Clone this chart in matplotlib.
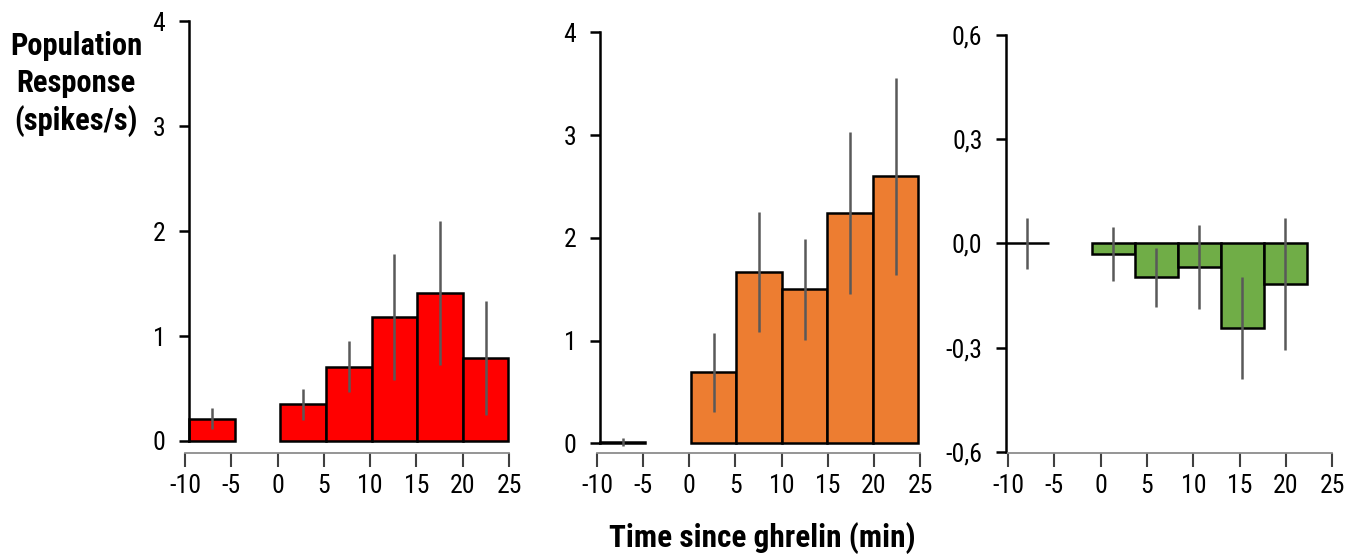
import matplotlib
matplotlib.use("Agg")
import matplotlib.pyplot as plt

plt.rcParams['font.family'] = ['Roboto Condensed', 'Liberation Sans', 'DejaVu Sans']

# ---- data ----
bin_left = [-10, 0, 5, 10, 15, 20]
bin_width = 5
red_vals = [0.21, 0.35, 0.71, 1.18, 1.41, 0.79]
red_err = [0.10, 0.15, 0.24, 0.60, 0.69, 0.54]
orange_vals = [0.01, 0.69, 1.67, 1.50, 2.24, 2.60]
orange_err = [0.04, 0.385, 0.585, 0.49, 0.79, 0.96]
green_vals = [0.0, -0.03, -0.098, -0.068, -0.244, -0.116]
green_err = [0.074, 0.078, 0.086, 0.122, 0.147, 0.19]

x_ticks = [-10, -5, 0, 5, 10, 15, 20, 25]
x_ticklabels = ['-10', '-5', '0', '5', '10', '15', '20', '25']
y_ticks_12 = [0, 1, 2, 3, 4]
y_ticklabels_12 = ['0', '1', '2', '3', '4']
y_ticks_3 = [-0.6, -0.3, 0.0, 0.3, 0.6]
y_ticklabels_3 = ['-0,6', '-0,3', '0,0', '0,3', '0,6']

colors = ['#FF0000', '#ED7D31', '#70AD47']

W, H = 1353, 558
fig = plt.figure(figsize=(W / 100, H / 100), dpi=100)


def px_axes(left, right, top, bottom):
    return fig.add_axes([left / W, 1 - bottom / H, (right - left) / W, (bottom - top) / H])


panels = [
    dict(vals=red_vals, err=red_err, color=colors[0],
         ax=(189, 513, 21.3, 441), xlim=(-10, 25.5), ylim=(0, 4),
         yt=y_ticks_12, ytl=y_ticklabels_12,
         xa=(185, 509, 452.7)),
    dict(vals=orange_vals, err=orange_err, color=colors[1],
         ax=(600, 923, 32.3, 443.3), xlim=(-10, 25.5), ylim=(0, 4),
         yt=y_ticks_12, ytl=y_ticklabels_12,
         xa=(597, 920, 452.7)),
    dict(vals=green_vals, err=green_err, color=colors[2],
         ax=(1006, 1337, 35, 451.7), xlim=(-10, 28.5), ylim=(-0.6, 0.6),
         yt=y_ticks_3, ytl=y_ticklabels_3,
         xa=(1008, 1332.3, 453.3)),
]

tick_fs = 18.5
for p in panels:
    l, r, t, b = p['ax']
    ax = px_axes(l, r, t, b)
    ax.set_xlim(*p['xlim'])
    ax.set_ylim(*p['ylim'])
    centers = [x + bin_width / 2 for x in bin_left]
    bars = ax.bar(bin_left, p['vals'], width=bin_width, align='edge',
                  color=p['color'], edgecolor='black', linewidth=1.8, zorder=2)
    for br in bars:
        br.set_clip_on(False)
    eb = ax.errorbar(centers, p['vals'], yerr=p['err'], fmt='none',
                     ecolor='#595959', elinewidth=1.8, capsize=0, zorder=3)
    for c in eb.get_children():
        c.set_clip_on(False)
    for s in ['top', 'right', 'bottom']:
        ax.spines[s].set_visible(False)
    ax.spines['left'].set_linewidth(1.8)
    ax.spines['left'].set_color('black')
    ax.set_xticks([])
    ax.set_yticks(p['yt'])
    ax.set_yticklabels(p['ytl'])
    ax.tick_params(axis='y', direction='out', length=7, width=1.8,
                   labelsize=tick_fs, pad=10, color='black')
    ax.patch.set_visible(False)

    xl, xr, xy = p['xa']
    xa = px_axes(xl, xr, xy - 1, xy)
    xa.set_xlim(-10, 25)
    xa.set_ylim(0, 1)
    for s in ['top', 'right', 'left']:
        xa.spines[s].set_visible(False)
    xa.spines['bottom'].set_color('#8c8c8c')
    xa.spines['bottom'].set_linewidth(1.3)
    xa.set_yticks([])
    xa.set_xticks(x_ticks)
    xa.set_xticklabels(x_ticklabels)
    xa.tick_params(axis='x', direction='out', length=10, width=1.5,
                   color='#404040', labelsize=tick_fs, pad=5)
    xa.patch.set_visible(False)

fig.text(76 / W, 1 - 84 / H, 'Population\nResponse\n(spikes/s)', ha='center', va='center',
         fontsize=22, fontweight='bold', linespacing=1.28)
fig.text(762 / W, 1 - 547 / H, 'Time since ghrelin (min)', ha='center', va='baseline',
         fontsize=22.5, fontweight='bold')

fig.savefig('out.png', dpi=100)
